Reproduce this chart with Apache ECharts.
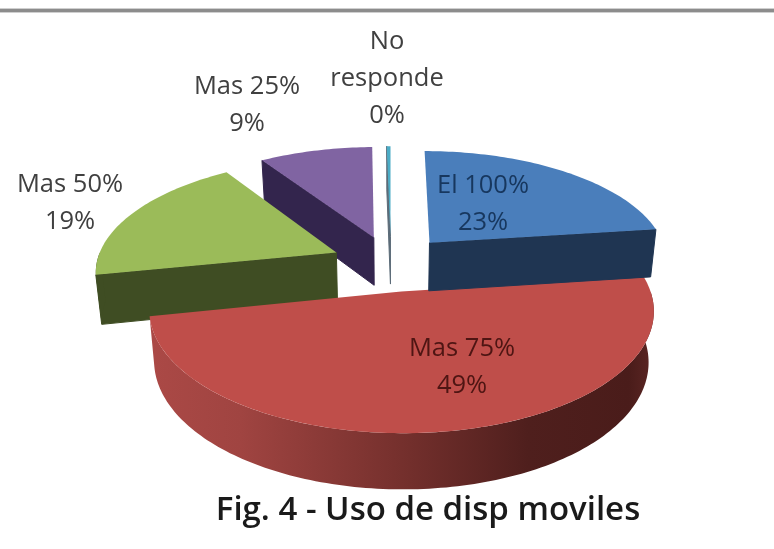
<!DOCTYPE html>
<html>
<head>
<meta charset="utf-8">
<title>Fig. 4</title>
<script src="https://cdn.jsdelivr.net/npm/echarts@6/dist/echarts.min.js"></script>
<style>
    html, body { margin: 0; padding: 0; background: #fff; }
    #chart { width: 774px; height: 549px; }
</style>
</head>
<body>
<div id="chart"></div>
<script>
// data, clockwise from the top of the pie
var categories = ['El 100%', 'Mas 75%', 'Mas 50%', 'Mas 25%', 'No\nresponde'];
var values = [23, 49, 19, 9, 0.3];
var topColors = ['#4a7ebb', '#bf4e4a', '#9bbb59', '#8064a2', '#4bacc6'];
var sideColors = ['#1f3552', '#7a2f2c', '#3f4d23', '#33254d', '#5b6b78'];
var labelColors = ['#17375e', '#4e1513', '#404040', '#404040', '#404040'];
var labelPos = [[483, 204], [462, 367], [70, 203], [247, 105], [387, 79]];
// back to front
var drawOrder = [3, 4, 2, 1, 0];

// perspective of the disc
var cx = 391, cy = 263, rx = 240, ry = 111, persp = 0.15;
var explode = 0.25, depth = 49, shrink = 0.98;

var total = values.reduce(function (a, b) { return a + b; }, 0);

function project(u, v, low) {
    var w = 1 + persp * v;
    var x = cx + rx * u / w;
    var y = cy - ry * v / w;
    if (low) {
        x = cx + (x - cx) * shrink;
        y += depth / Math.pow(w, 0.66);
    }
    return [x, y];
}

function renderSlice(params) {
    var i = drawOrder[params.dataIndex];
    var before = values.slice(0, i).reduce(function (a, b) { return a + b; }, 0);
    var start = before / total * Math.PI * 2;
    var end = (before + values[i]) / total * Math.PI * 2;
    var mid = (start + end) / 2;
    var ou = explode * Math.sin(mid);
    var ov = explode * Math.cos(mid);

    function rim(a, low) {
        return project(ou + Math.sin(a), ov + Math.cos(a), low);
    }
    function arc(a0, a1, low) {
        var pts = [];
        var n = Math.max(2, Math.ceil((a1 - a0) / 0.02));
        for (var j = 0; j <= n; j++) {
            pts.push(rim(a0 + (a1 - a0) * j / n, low));
        }
        return pts;
    }
    function wall(a) {
        return {
            type: 'polygon',
            shape: { points: [project(ou, ov), rim(a), rim(a, true), project(ou, ov, true)] },
            style: { fill: sideColors[i], stroke: sideColors[i], lineWidth: 1 }
        };
    }

    var children = [];
    // radial walls that face the viewer
    if (Math.sin(start) < 0) children.push(wall(start));
    if (Math.sin(end) > 0) children.push(wall(end));

    // outer wall, front half only
    var a0 = Math.max(start, Math.PI / 2);
    var a1 = Math.min(end, Math.PI * 1.5);
    if (a1 > a0) {
        var fill = sideColors[i];
        if (i === 1) {
            // left to right on screen
            fill = new echarts.graphic.LinearGradient(0, 0, 1, 0, [
                { offset: 0, color: '#ab4946' },
                { offset: 0.18, color: '#a04441' },
                { offset: 0.5, color: '#75302d' },
                { offset: 0.75, color: '#4f1f1d' },
                { offset: 0.95, color: '#4a1c1a' },
                { offset: 1, color: '#5c2624' }
            ]);
        }
        children.push({
            type: 'polygon',
            shape: { points: arc(a0, a1).concat(arc(a0, a1, true).reverse()) },
            style: { fill: fill }
        });
    }

    // top face
    children.push({
        type: 'polygon',
        shape: { points: [project(ou, ov)].concat(arc(start, end)) },
        style: { fill: topColors[i] }
    });

    children.push({
        type: 'text',
        z2: 10,
        style: {
            text: categories[i] + '\n' + Math.round(values[i]) + '%',
            x: labelPos[i][0],
            y: labelPos[i][1],
            textAlign: 'center',
            textVerticalAlign: 'middle',
            fontFamily: 'Open Sans',
            fontSize: 25.5,
            lineHeight: 37,
            fill: labelColors[i]
        }
    });

    return { type: 'group', children: children };
}

var chart = echarts.init(document.getElementById('chart'));
chart.setOption({
    animation: false,
    backgroundColor: '#ffffff',
    title: {
        text: 'Fig. 4 - Uso de disp moviles',
        left: 423,
        top: 506,
        textAlign: 'center',
        textVerticalAlign: 'middle',
        textStyle: { fontFamily: 'Open Sans', fontWeight: 600, fontSize: 33, color: '#1a1a1a' }
    },
    graphic: [
        { type: 'rect', shape: { x: 0, y: 8, width: 774, height: 5 }, style: { fill: '#cfcfcf' } },
        { type: 'rect', shape: { x: 0, y: 9, width: 774, height: 3 }, style: { fill: '#8c8c8c' } }
    ],
    series: [{
        type: 'custom',
        coordinateSystem: 'none',
        renderItem: renderSlice,
        data: drawOrder.map(function (i) { return [i, values[i]]; })
    }]
});
</script>
</body>
</html>
